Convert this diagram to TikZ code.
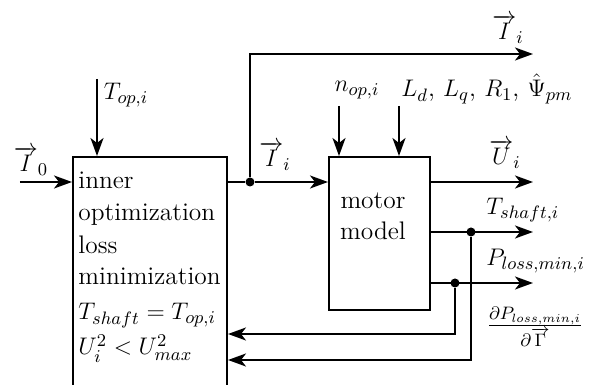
\documentclass[tikz,border=0pt]{standalone}
\usepackage{amssymb}
\usepackage{amsmath}
\usepackage{tikz}
\usetikzlibrary{shapes,arrows.meta,positioning}
\tikzstyle{block}=[rectangle, draw, line width=1pt, inner sep=0pt, anchor=north west]
\tikzstyle{blocktext}=[align=left, inner sep=0pt, anchor=north west]
\tikzstyle{dot}=[circle, fill, inner sep=0pt, minimum size=4.5pt]

\begin{document}
\begin{tikzpicture}[x=0.5pt, y=-0.5pt, every node/.style = {font=\fontsize{12.7pt}{15.6pt}\selectfont}, >={Stealth[length=9pt,width=6.5pt,inset=2.5pt]}]
\clip (0,0) rectangle (591,385);

\node[block, minimum width=77pt, minimum height=130pt] (inner) at (72,156) {};
\node[block, minimum width=50.5pt, minimum height=76.5pt] (motor) at (328,156) {};
\node[blocktext] (innertxt) at (78,172) {inner\\ optimization\\[1pt] loss\\ minimization\\[2pt] $T_{shaft}=T_{op,i}$\\[2pt] $U_i^2<U_{max}^2$};
\node[align=center] (motortxt) at (373,216) {motor\\model};

\node[dot] (split) at (250,182) {};
\node[dot] (tsplit) at (471,232) {};
\node[dot] (psplit) at (455,283) {};

\coordinate (i0) at (20,182);
\coordinate (topin) at (97,79);
\coordinate (nin) at (339,106);
\coordinate (lin) at (399,106);
\coordinate (iout) at (533,54);
\coordinate (uout) at (533,182);
\coordinate (tout) at (533,232);
\coordinate (pout) at (533,283);
\coordinate (pfb) at (455,334);
\coordinate (tfb) at (471,360);

\draw[->,line width=1pt](i0) -- (i0 -| inner.west);
\draw[->,line width=1pt](topin) -- (topin |- inner.north);
\draw[line width=1pt](split -| inner.east) -- (split);
\draw[->,line width=1pt](split) -- (split -| motor.west);
\draw[->,line width=1pt](split) |- (iout);
\draw[->,line width=1pt](nin) -- (nin |- motor.north);
\draw[->,line width=1pt](lin) -- (lin |- motor.north);
\draw[->,line width=1pt](uout -| motor.east) -- (uout);
\draw[->,line width=1pt](tout -| motor.east) -- (tout);
\draw[->,line width=1pt](pout -| motor.east) -- (pout);
\draw[->,line width=1pt](psplit) -- (pfb) -- (pfb -| inner.east);
\draw[->,line width=1pt](tsplit) -- (tfb) -- (tfb -| inner.east);

\node (i0lbl) at (31,161) {$\overrightarrow{I}_0$};
\node (toplbl) at (126,95) {$T_{op,i}$};
\node (ilbl) at (275,156) {$\overrightarrow{I}_i$};
\node (ioutlbl) at (508,29) {$\overrightarrow{I}_i$};
\node (nlbl) at (357,90) {$n_{op,i}$};
\node (llbl) at (487,89) {$L_d$, $L_q$, $R_1$, $\hat{\Psi}_{pm}$};
\node (ulbl) at (505,154) {$\overrightarrow{U}_i$};
\node[anchor=west, inner sep=0pt] (tlbl) at (486,210) {$T_{shaft,i}$};
\node[anchor=west, inner sep=0pt] (plbl) at (486,261) {$P_{loss,min,i}$};
\node (dlbl) at (535,327) {$\frac{\partial P_{loss,min,i}}{\partial \overrightarrow{\Gamma}}$};

\end{tikzpicture}
\end{document}
